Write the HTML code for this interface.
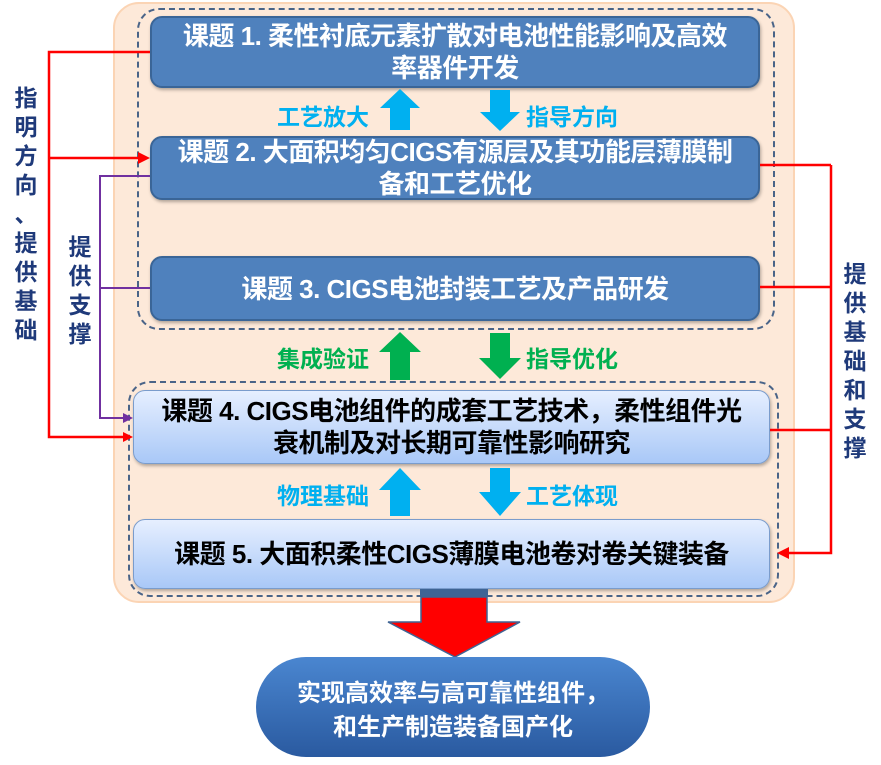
<!DOCTYPE html>
<html><head><meta charset="utf-8"><style>
body{margin:0;width:881px;height:765px;background:#fff;position:relative;overflow:hidden;font-family:"Liberation Sans","Noto Sans CJK SC",sans-serif;font-weight:bold}
.a{position:absolute}
.dk{background:#4f81bd;border:2px solid #3a6597;border-radius:12px;color:#fff;box-sizing:border-box;display:flex;align-items:center;justify-content:center;text-align:center;font-size:26px;line-height:32px;box-shadow:1px 2px 3px rgba(0,0,0,.3);white-space:nowrap;letter-spacing:-0.5px}
.lt{background:linear-gradient(#e6efff,#a9c8f7);border:1.5px solid #7a9ccc;border-radius:12px;color:#000;box-sizing:border-box;display:flex;align-items:center;justify-content:center;text-align:center;font-size:26px;line-height:32px;box-shadow:1px 2px 3px rgba(0,0,0,.3);white-space:nowrap;letter-spacing:-0.5px}
.lb{font-size:23px;color:#00b0f0}
.g{color:#00b050}
.v{color:#1f3a7a;font-size:23px;line-height:29px;width:26px;text-align:center}
</style></head><body>
<div class="a" style="left:113px;top:2px;width:682px;height:601px;background:#fde9d9;border:2px solid #fbd4b4;border-radius:26px;box-sizing:border-box"></div>
<div class="a" style="left:137px;top:8px;width:638px;height:322px;border:2px dashed #4a6488;border-radius:22px;box-sizing:border-box"></div>
<div class="a" style="left:128px;top:381px;width:651px;height:216px;border:2px dashed #4a6488;border-radius:22px;box-sizing:border-box"></div>

<div class="a dk" style="left:150px;top:16px;width:610px;height:72px">课题 1. 柔性衬底元素扩散对电池性能影响及高效<br>率器件开发</div>
<div class="a dk" style="left:150px;top:136px;width:610px;height:64px">课题 2. 大面积均匀CIGS有源层及其功能层薄膜制<br>备和工艺优化</div>
<div class="a dk" style="left:150px;top:256px;width:610px;height:65px">课题 3. CIGS电池封装工艺及产品研发</div>
<div class="a lt" style="left:133px;top:390px;width:637px;height:74px">课题 4. CIGS电池组件的成套工艺技术，柔性组件光<br>衰机制及对长期可靠性影响研究</div>
<div class="a lt" style="left:133px;top:519px;width:637px;height:70px">课题 5. 大面积柔性CIGS薄膜电池卷对卷关键装备</div>

<div class="a lb" style="left:277px;top:98px">工艺放大</div>
<div class="a lb" style="left:526px;top:98px">指导方向</div>
<div class="a lb g" style="left:277px;top:340px">集成验证</div>
<div class="a lb g" style="left:526px;top:340px">指导优化</div>
<div class="a lb" style="left:277px;top:477px">物理基础</div>
<div class="a lb" style="left:526px;top:477px">工艺体现</div>

<div class="a v" style="left:13px;top:84px">指<br>明<br>方<br>向<br>、<br>提<br>供<br>基<br>础</div>
<div class="a v" style="left:67px;top:233px">提<br>供<br>支<br>撑</div>
<div class="a v" style="left:842px;top:260px">提<br>供<br>基<br>础<br>和<br>支<br>撑</div>

<svg class="a" style="left:0;top:0" width="881" height="765">
<defs>
<linearGradient id="eg" x1="0" y1="0" x2="0" y2="1"><stop offset="0" stop-color="#4a86d0"/><stop offset="1" stop-color="#2a5aa0"/></linearGradient>
</defs>
<polygon points="390,130 410,130 410,108 420,108 400,89 380,108 390,108" fill="#00b0f0"/>
<polygon points="490,90 510,90 510,112 520,112 500,131 480,112 490,112" fill="#00b0f0"/>
<polygon points="390,380 410,380 410,352 421,352 400,332 379,352 390,352" fill="#00b050"/>
<polygon points="490,333 510,333 510,358 521,358 500,379 479,358 490,358" fill="#00b050"/>
<polygon points="390,516 410,516 410,490 421,490 400,468 379,490 390,490" fill="#00b0f0"/>
<polygon points="490,468 510,468 510,492 521,492 500,516 479,492 490,492" fill="#00b0f0"/>
<rect x="420" y="589" width="68" height="8" fill="#3f6494"/>
<polygon points="421,597 487,597 487,622 520,622 455,657 388,622 421,622" fill="#ff0000" stroke="#3f6494" stroke-width="1.5"/>
<rect x="256" y="657" width="394" height="100" rx="50" fill="url(#eg)"/>
<text x="453" y="701" text-anchor="middle" fill="#fff" font-size="24" font-weight="bold" font-family="Liberation Sans,Noto Sans CJK SC,sans-serif">实现高效率与高可靠性组件，</text>
<text x="453" y="735" text-anchor="middle" fill="#fff" font-size="24" font-weight="bold" font-family="Liberation Sans,Noto Sans CJK SC,sans-serif">和生产制造装备国产化</text>
<g stroke="#ff0000" stroke-width="2.5" fill="none">
<polyline points="150,52 49,52 49,437 125,437"/>
<line x1="49" y1="158" x2="142" y2="158"/>
<line x1="760" y1="165" x2="831" y2="165"/>
<line x1="760" y1="287" x2="831" y2="287"/>
<line x1="770" y1="430" x2="831" y2="430"/>
<polyline points="831,165 831,553 787,553"/>
</g>
<polygon points="150,158 138,152 138,164" fill="#ff0000"/>
<polygon points="133,437 123,432 123,442" fill="#ff0000"/>
<polygon points="777,553 789,547 789,559" fill="#ff0000"/>
<g stroke="#7030a0" stroke-width="2" fill="none">
<polyline points="150,176 100,176 100,418 124,418"/>
<line x1="100" y1="288" x2="150" y2="288"/>
</g>
<polygon points="133,418 123,413 123,423" fill="#7030a0"/>
</svg>
</body></html>
